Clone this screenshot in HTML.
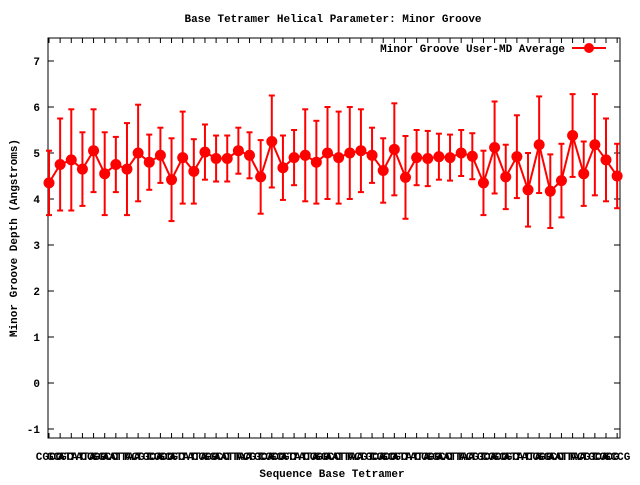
<!DOCTYPE html>
<html><head><meta charset="utf-8"><style>
body{margin:0;background:#fff}
svg text{font-family:"Liberation Mono",monospace;font-weight:bold;font-size:11px;fill:#000}
</style></head><body>
<svg id="s" width="640" height="480" xmlns="http://www.w3.org/2000/svg">
<rect width="640" height="480" fill="#fff"/>
<text x="333" y="22" text-anchor="middle">Base Tetramer Helical Parameter: Minor Groove</text>
<text x="332" y="477" text-anchor="middle">Sequence Base Tetramer</text>
<text transform="translate(17,238) rotate(-90)" text-anchor="middle">Minor Groove Depth (Angstroms)</text>
<rect x="48" y="38" width="572" height="400" fill="none" stroke="#000" stroke-width="1"/>
<g id="g"></g>
<text x="565" y="52" text-anchor="end">Minor Groove User-MD Average</text>
<line x1="572" y1="48" x2="606" y2="48" stroke="#f00" stroke-width="2"/>
<circle cx="589" cy="48" r="5" fill="#f00"/>
</svg>
<script>
var g=document.getElementById('g'),h='';
function Y(v){return 383-v*46;}
for(var t=-1;t<=7;t++){var y=Y(t);h+='<line x1="48" y1="'+y+'" x2="54" y2="'+y+'" stroke="#000"/><line x1="614" y1="'+y+'" x2="620" y2="'+y+'" stroke="#000"/><text x="40" y="'+(y+4)+'" text-anchor="end">'+t+'</text>';}
var v=[4.35,4.75,4.85,4.65,5.05,4.55,4.75,4.65,5.0,4.8,4.95,4.42,4.9,4.6,5.02,4.88,4.88,5.05,4.95,4.48,5.25,4.68,4.9,4.95,4.8,5.0,4.9,5.0,5.05,4.95,4.62,5.08,4.47,4.9,4.88,4.92,4.9,5.0,4.93,4.35,5.12,4.48,4.92,4.2,5.18,4.17,4.4,5.38,4.55,5.18,4.85,4.5];
var e=[0.7,1.0,1.1,0.8,0.9,0.9,0.6,1.0,1.05,0.6,0.6,0.9,1.0,0.7,0.6,0.5,0.5,0.5,0.5,0.8,1.0,0.7,0.6,1.0,0.9,1.0,1.0,1.0,0.9,0.6,0.7,1.0,0.9,0.6,0.6,0.5,0.5,0.5,0.5,0.7,1.0,0.7,0.9,0.8,1.05,0.8,0.8,0.9,0.7,1.1,0.9,0.7];
var L=["CGCG","GCGC","ATAT","TATA","CCGG","GGCC","AATT","TTAA","ACGT","TGCA"];
var pts=[];
for(var i=0;i<v.length;i++){var x=49+i*11.14;pts.push(x.toFixed(1)+','+Y(v[i]).toFixed(1));
h+='<line x1="'+x+'" y1="438" x2="'+x+'" y2="433" stroke="#000"/><line x1="'+x+'" y1="38" x2="'+x+'" y2="43" stroke="#000"/>';
h+='<text x="'+x+'" y="460" text-anchor="middle">'+(i==0?"CGCG":i==v.length-1?"GCCG":L[i%10])+'</text>';}
h+='<polyline points="'+pts.join(' ')+'" fill="none" stroke="#f00" stroke-width="2"/>';
for(var i=0;i<v.length;i++){var x=49+i*11.14,a=Y(v[i]+e[i]),b=Y(v[i]-e[i]);
h+='<line x1="'+x+'" y1="'+a+'" x2="'+x+'" y2="'+b+'" stroke="#f00" stroke-width="2"/><line x1="'+(x-3)+'" y1="'+a+'" x2="'+(x+3)+'" y2="'+a+'" stroke="#f00" stroke-width="2"/><line x1="'+(x-3)+'" y1="'+b+'" x2="'+(x+3)+'" y2="'+b+'" stroke="#f00" stroke-width="2"/><circle cx="'+x+'" cy="'+Y(v[i])+'" r="5.5" fill="#f00"/>';}
g.innerHTML=h;
</script>
</body></html>
